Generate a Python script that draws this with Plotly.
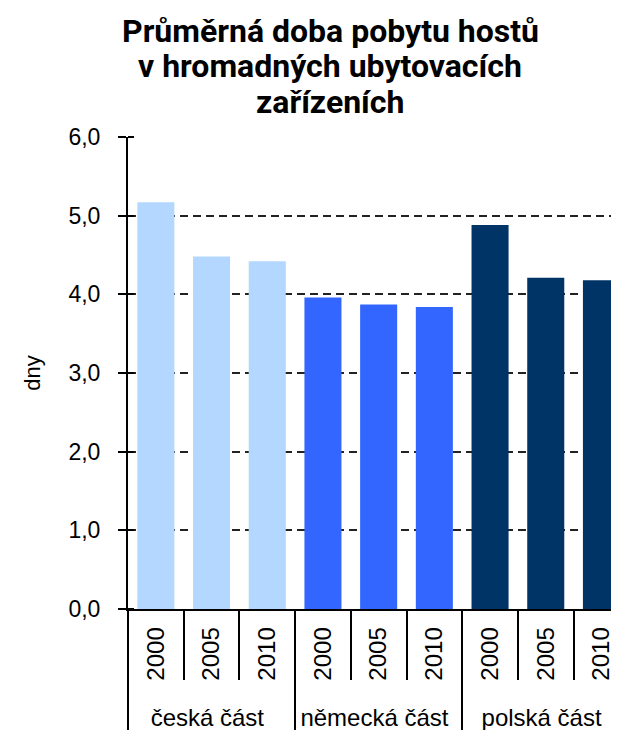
import plotly.graph_objects as go

# Data
groups = ["česká část", "německá část", "polská část"]
years = ["2000", "2005", "2010"]
values = {
    "česká část": [5.17, 4.48, 4.42],
    "německá část": [3.96, 3.87, 3.84],
    "polská část": [4.88, 4.21, 4.18],
}
group_colors = {"česká část": "#B3D7FF", "německá část": "#3366FF", "polská část": "#003366"}
title_lines = ["Průměrná doba pobytu hostů", "v hromadných ubytovacích", "zařízeních"]
y_title = "dny"

x_outer, x_inner, y_vals, colors = [], [], [], []
for g in groups:
    for yr, v in zip(years, values[g]):
        x_outer.append(g)
        x_inner.append(yr + "\u00a0")  # small gap between axis and rotated label
        y_vals.append(v)
        colors.append(group_colors[g])

FONT = "Liberation Sans, Arial, sans-serif"
fig = go.Figure(go.Bar(x=[x_outer, x_inner], y=y_vals, marker=dict(color=colors, line=dict(width=0)),
                       hoverinfo="y"))

# page body has an 8px margin: the figure is sized to fit the window exactly
W, H = 611, 722
L, R, T, B = 120, 0, 129, 121
pw, ph = W - L - R, H - T - B

annos = []
centers_px = [23, 58.5, 94]  # figure coords
for line, cy in zip(title_lines, centers_px):
    annos.append(dict(text=f"<b>{line}</b>", xref="paper", yref="paper",
                      x=(322 - L) / pw, y=(H - B - cy) / ph, xanchor="center", yanchor="middle",
                      showarrow=False,
                      font=dict(family="Roboto, Liberation Sans, sans-serif", size=32, color="#000")))

fig.update_layout(
    width=W, height=H, margin=dict(l=L, r=R, t=T, b=B),
    plot_bgcolor="white", paper_bgcolor="white",
    separators=", ",
    bargap=0.335,
    showlegend=False,
    font=dict(family=FONT, size=24, color="#000"),
    annotations=annos,
)
fig.update_xaxes(
    type="multicategory", range=[-0.5, 8.315],
    tickangle=-90, ticks="outside", tickson="boundaries", ticklen=69, tickwidth=2, tickcolor="#000",
    showdividers=True, dividercolor="#000", dividerwidth=2,
    showline=True, linecolor="#000", linewidth=2, showgrid=False,
    tickfont=dict(family=FONT, size=24, color="#000"),
)
fig.update_yaxes(
    range=[0, 6], dtick=1, tickformat=".1f",
    showline=True, linecolor="#000", linewidth=2,
    ticks="outside", ticklen=8, tickwidth=2, tickcolor="#000",
    minor=dict(ticks="inside", ticklen=6, tickwidth=2, tickcolor="#000", dtick=1, showgrid=False),
    showgrid=True, gridcolor="#222", gridwidth=2, griddash="8px,5px",
    zeroline=False,
    ticklabelstandoff=13,
    tickfont=dict(family=FONT, size=23, color="#000"),
    title=dict(text=y_title, font=dict(family=FONT, size=22, color="#000"), standoff=22),
)

fig.write_html("out.html")
